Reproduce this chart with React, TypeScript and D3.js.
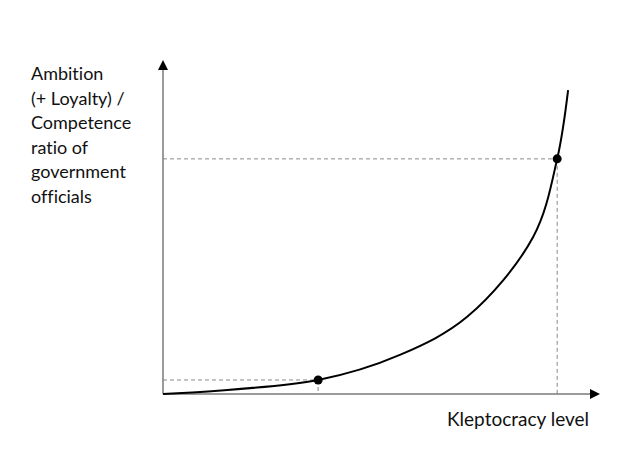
import React from "react";
import * as d3 from "d3";

const curveX = [0, 3.55, 5.42, 6.96, 8.47, 9.02, 9.27];
const curveY = [0, 0.42, 1.17, 2.31, 4.7, 7.04, 9.1];
const markX = [3.55, 9.02];
const markY = [0.42, 7.04];
const yLabelLines = ["Ambition", "(+ Loyalty) /", "Competence", "ratio of", "government", "officials"];
const xLabel = "Kleptocracy level";

export default function App() {
  const W = 640, H = 466;
  const x0 = 163, y0 = 394;
  const x = d3.scaleLinear().domain([0, 10]).range([x0, 600]);
  const y = d3.scaleLinear().domain([0, 10]).range([y0, 60]);
  const pts = curveX.map((v, i) => [v, curveY[i]] as [number, number]);
  const line = d3.line<[number, number]>().x(d => x(d[0])).y(d => y(d[1])).curve(d3.curveCatmullRom.alpha(0.5));
  const font = "Lato, 'Open Sans', sans-serif";
  const textStyle = { fontVariantLigatures: "none" as const };
  return (
    <svg width={W} height={H} style={{ position: "absolute", left: 0, top: 0, background: "#fff" }}>
      {markX.map((mx, i) => (
        <g key={i} stroke="#8a8a8a" strokeWidth={1} strokeDasharray="4,3" fill="none">
          <line x1={x0} x2={x(mx)} y1={y(markY[i])} y2={y(markY[i])} />
          <line x1={x(mx)} x2={x(mx)} y1={y(markY[i])} y2={y0} />
        </g>
      ))}
      <line x1={x0} x2={x0} y1={y0} y2={y(10) + 8} stroke="#7a7a7a" strokeWidth={1.5} />
      <line x1={x0} x2={x(10) - 8} y1={y0} y2={y0} stroke="#7a7a7a" strokeWidth={1.5} />
      <path d={`M${x0},${y(10)} L${x0 - 5},${y(10) + 10} L${x0 + 5},${y(10) + 10} Z`} fill="#000" />
      <path d={`M${x(10)},${y0} L${x(10) - 10},${y0 - 5} L${x(10) - 10},${y0 + 5} Z`} fill="#000" />
      <path d={line(pts) || ""} fill="none" stroke="#000" strokeWidth={2} />
      {markX.map((mx, i) => (
        <circle key={i} cx={x(mx)} cy={y(markY[i])} r={4.5} fill="#000" />
      ))}
      <text fontFamily={font} fontSize={18} fill="#111" style={textStyle}>
        {yLabelLines.map((t, i) => (
          <tspan key={i} x={31} y={80 + i * 24.6}>{t}</tspan>
        ))}
      </text>
      <text x={447} y={426} fontFamily={font} fontSize={19} fill="#111" style={textStyle}>{xLabel}</text>
    </svg>
  );
}
